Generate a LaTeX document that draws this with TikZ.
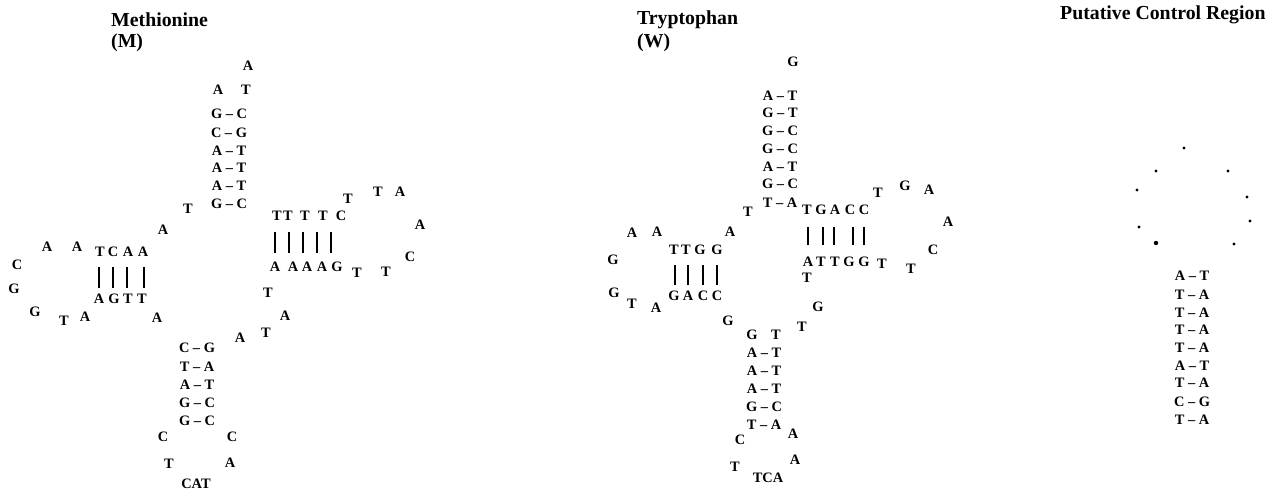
\documentclass[tikz,border=0pt]{standalone}
\usepackage{fontspec}
\setmainfont{Liberation Serif}
\newcounter{ntc}
\newcommand\nt[3]{\stepcounter{ntc}\node[nt] (n\arabic{ntc}) at (#1,#2) {#3};}
\newcommand\ttl[3]{\stepcounter{ntc}\node[ttlstyle] (t\arabic{ntc}) at (#1,#2) {#3};}
\tikzset{
  nt/.style={inner sep=0pt, anchor=center, font=\fontsize{14.4}{14.4}\selectfont\bfseries},
  ttlstyle/.style={inner sep=0pt, anchor=west, font=\fontsize{19.8}{19.8}\selectfont\bfseries},
  bar/.style={line width=1.6pt},
}
\begin{document}
\begin{tikzpicture}[x=1pt,y=-1pt]
\useasboundingbox (0,0) rectangle (1278,490);
% ---------- Methionine ----------
\ttl{111}{20}{Methionine}
\ttl{111}{43}{(M)}
\nt{248}{66}{A}
\nt{218}{90}{A}\nt{246}{90}{T}
\nt{229}{114}{G – C}
\nt{229}{133}{C – G}
\nt{229}{151}{A – T}
\nt{229}{168}{A – T}
\nt{229}{186}{A – T}
\nt{229}{204}{G – C}
\nt{188}{209}{T}
\nt{163}{230}{A}
% right arm (D/T)
\nt{277}{216}{T}\nt{288}{216}{T}\nt{305}{216}{T}\nt{323}{216}{T}\nt{341}{216}{C}
\nt{348}{199}{T}
\nt{378}{192}{T}\nt{400}{192}{A}
\nt{420}{225}{A}
\nt{410}{257}{C}
\nt{386}{272}{T}\nt{357}{273}{T}
\nt{275}{267}{A}\nt{293}{267}{A}\nt{307}{267}{A}\nt{322}{267}{A}\nt{337}{267}{G}
\foreach \x in {275,289,303,317,331} \draw[bar] (\x,232) -- (\x,253);
\nt{268}{293}{T}
\nt{285}{316}{A}
\nt{266}{333}{T}
\nt{240}{338}{A}
% left arm
\nt{47}{247}{A}\nt{77}{247}{A}
\nt{100}{252}{T}\nt{113}{252}{C}\nt{128}{252}{A}\nt{143}{252}{A}
\foreach \x in {99,113,127,144} \draw[bar] (\x,267) -- (\x,288);
\nt{99}{299}{A}\nt{114}{299}{G}\nt{128}{299}{T}\nt{142}{299}{T}
\nt{17}{265}{C}
\nt{14}{289}{G}
\nt{35}{312}{G}
\nt{64}{321}{T}\nt{85}{317}{A}
\nt{157}{318}{A}
% anticodon arm
\nt{197}{348}{C – G}
\nt{197}{367}{T – A}
\nt{197}{385}{A – T}
\nt{197}{403}{G – C}
\nt{197}{421}{G – C}
\nt{163}{437}{C}\nt{232}{437}{C}
\nt{169}{464}{T}\nt{230}{463}{A}
\nt{196}{484}{CAT}
% ---------- Tryptophan ----------
\ttl{637}{20}{Tryptophan}
\ttl{637}{43}{(W)}
\nt{793}{62}{G}
\nt{780}{96}{A – T}
\nt{780}{113}{G – T}
\nt{780}{131}{G – C}
\nt{780}{149}{G – C}
\nt{780}{167}{A – T}
\nt{780}{184}{G – C}
\nt{780}{203}{T – A}
\nt{748}{212}{T}
\nt{730}{232}{A}
% right arm
\nt{807}{210}{T}\nt{821}{210}{G}\nt{835}{210}{A}\nt{850}{210}{C}\nt{864}{210}{C}
\nt{878}{193}{T}\nt{905}{186}{G}\nt{929}{190}{A}
\nt{948}{222}{A}
\nt{933}{250}{C}
\nt{911}{269}{T}\nt{882}{264}{T}
\foreach \x in {808,823,834,853,864} \draw[bar] (\x,227) -- (\x,245);
\nt{808}{262}{A}\nt{821}{262}{T}\nt{835}{262}{T}\nt{849}{262}{G}\nt{864}{262}{G}
\nt{807}{278}{T}
\nt{818}{307}{G}
\nt{802}{327}{T}
% left arm
\nt{632}{233}{A}\nt{657}{232}{A}
\nt{674}{250}{T}\nt{686}{250}{T}\nt{700}{250}{G}\nt{717}{250}{G}
\foreach \x in {675,688,703,717} \draw[bar] (\x,265) -- (\x,285);
\nt{674}{296}{G}\nt{688}{296}{A}\nt{703}{296}{C}\nt{717}{296}{C}
\nt{613}{260}{G}
\nt{614}{293}{G}
\nt{632}{304}{T}\nt{656}{308}{A}
\nt{728}{321}{G}
% anticodon arm
\nt{752}{335}{G}\nt{776}{335}{T}
\nt{764}{353}{A – T}
\nt{764}{371}{A – T}
\nt{764}{389}{A – T}
\nt{764}{407}{G – C}
\nt{764}{425}{T – A}
\nt{740}{440}{C}\nt{793}{434}{A}
\nt{735}{467}{T}\nt{795}{460}{A}
\nt{768}{478}{TCA}
% ---------- Putative Control Region ----------
\ttl{1060}{15}{Putative Control Region}
\foreach \p in {(1184,148),(1156,171),(1228,171),(1137,190),(1247,197),(1250,221),(1139,227),(1234,244)}
  \fill \p circle (1.6);
\fill (1156,243) circle (2.2);
\nt{1192}{276}{A – T}
\nt{1192}{295}{T – A}
\nt{1192}{313}{T – A}
\nt{1192}{330}{T – A}
\nt{1192}{348}{T – A}
\nt{1192}{366}{A – T}
\nt{1192}{383}{T – A}
\nt{1192}{402}{C – G}
\nt{1192}{420}{T – A}
\end{tikzpicture}
\end{document}
